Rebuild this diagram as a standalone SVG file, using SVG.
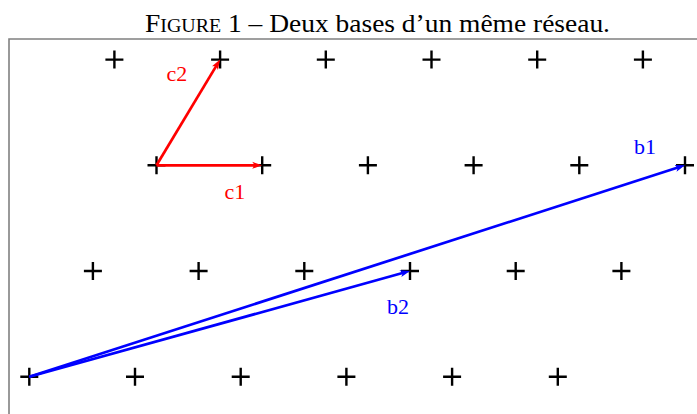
<svg xmlns="http://www.w3.org/2000/svg" xmlns:xlink="http://www.w3.org/1999/xlink" width="697" height="414" viewBox="0 0 697 414">
<style>
.pt{stroke:#000;stroke-width:2.4;fill:none}
.red{stroke:#ff0000;stroke-width:2.7;fill:none}
.blue{stroke:#0000ff;stroke-width:2.7;fill:none}
.lbl{font-family:"Liberation Serif","Times New Roman",serif;font-size:22px}
.title{font-family:"Liberation Serif","Times New Roman",serif;font-size:25.5px;fill:#000}
</style>
<defs>
<path id="cross" class="pt" d="M-9,0H9M0,-9V9"/>
<marker id="ar" markerUnits="userSpaceOnUse" viewBox="0 0 10 8" markerWidth="10" markerHeight="8" refX="5" refY="4" orient="auto">
<path d="M0,0.5 L10,4 L0,7.5 L2.5,4 z" fill="#ff0000"/>
</marker>
<marker id="ab" markerUnits="userSpaceOnUse" viewBox="0 0 10 8" markerWidth="10" markerHeight="8" refX="5" refY="4" orient="auto">
<path d="M0,0.5 L10,4 L0,7.5 L2.5,4 z" fill="#0000ff"/>
</marker>
</defs>
<rect width="697" height="414" fill="#fff"/>
<text class="title" x="145" y="31.5" textLength="465" lengthAdjust="spacingAndGlyphs">F<tspan font-size="18.5">IGURE</tspan> 1 – Deux bases d’un même réseau.</text>
<path d="M9,414V39H697" fill="none" stroke="#808080" stroke-width="1.6"/>
<g id="points">
<g id="p-0-0"><use xlink:href="#cross" x="114.4" y="59.6"/></g>
<g id="p-0-1"><use xlink:href="#cross" x="220.1" y="59.6"/></g>
<g id="p-0-2"><use xlink:href="#cross" x="325.8" y="59.6"/></g>
<g id="p-0-3"><use xlink:href="#cross" x="431.5" y="59.6"/></g>
<g id="p-0-4"><use xlink:href="#cross" x="537.2" y="59.6"/></g>
<g id="p-0-5"><use xlink:href="#cross" x="642.9" y="59.6"/></g>
<g id="p-1-0"><use xlink:href="#cross" x="156.5" y="165.3"/></g>
<g id="p-1-1"><use xlink:href="#cross" x="262.2" y="165.3"/></g>
<g id="p-1-2"><use xlink:href="#cross" x="367.9" y="165.3"/></g>
<g id="p-1-3"><use xlink:href="#cross" x="473.6" y="165.3"/></g>
<g id="p-1-4"><use xlink:href="#cross" x="579.3" y="165.3"/></g>
<g id="p-1-5"><use xlink:href="#cross" x="685" y="165.3"/></g>
<g id="p-2-0"><use xlink:href="#cross" x="92.9" y="271"/></g>
<g id="p-2-1"><use xlink:href="#cross" x="198.6" y="271"/></g>
<g id="p-2-2"><use xlink:href="#cross" x="304.3" y="271"/></g>
<g id="p-2-3"><use xlink:href="#cross" x="410" y="271"/></g>
<g id="p-2-4"><use xlink:href="#cross" x="515.7" y="271"/></g>
<g id="p-2-5"><use xlink:href="#cross" x="621.4" y="271"/></g>
<g id="p-3-0"><use xlink:href="#cross" x="29.3" y="376.7"/></g>
<g id="p-3-1"><use xlink:href="#cross" x="135" y="376.7"/></g>
<g id="p-3-2"><use xlink:href="#cross" x="240.7" y="376.7"/></g>
<g id="p-3-3"><use xlink:href="#cross" x="346.4" y="376.7"/></g>
<g id="p-3-4"><use xlink:href="#cross" x="452.1" y="376.7"/></g>
<g id="p-3-5"><use xlink:href="#cross" x="557.8" y="376.7"/></g>
</g>
<g id="connectors">
<path class="red" d="M156.5,165.3L257.2,165.3" marker-end="url(#ar)"/>
<path class="red" d="M156.5,165.3L217.5,63.9" marker-end="url(#ar)"/>
<path class="blue" d="M29.3,376.7L680.2,166.8" marker-end="url(#ab)"/>
<path class="blue" d="M29.3,376.7L405.2,272.3" marker-end="url(#ab)"/>
</g>
<g id="labels">
<text class="lbl" x="166.5" y="81" fill="#ff0000">c2</text>
<text class="lbl" x="224.5" y="199" fill="#ff0000">c1</text>
<text class="lbl" x="634" y="154" fill="#0000ff">b1</text>
<text class="lbl" x="387" y="314" fill="#0000ff">b2</text>
</g>
</svg>
